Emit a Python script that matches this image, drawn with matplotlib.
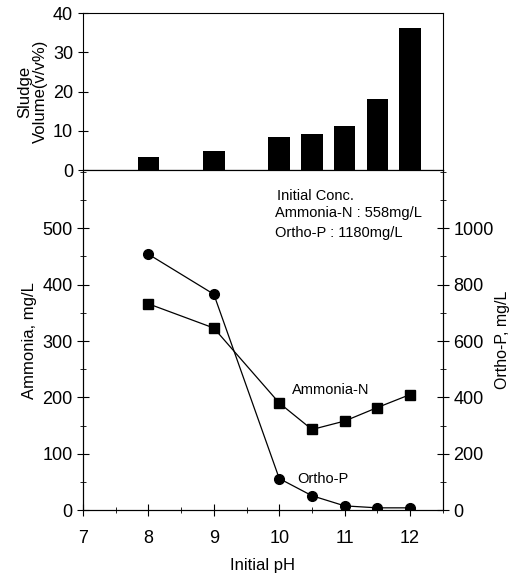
import matplotlib.pyplot as plt
import numpy as np
from matplotlib.ticker import MultipleLocator

plt.rcParams['font.family'] = ['Liberation Sans', 'DejaVu Sans']
NARROW = ['Liberation Sans Narrow', 'Liberation Sans']

# data
ph = [8, 9, 10, 10.5, 11, 11.5, 12]
sludge = [3.3, 5.0, 8.5, 9.1, 11.2, 18.0, 36.2]
ammonia = [366, 323, 190, 143, 158, 182, 205]
ortho_p = [908, 766, 112, 51, 15, 8, 8]

fig = plt.figure(figsize=(5.09, 5.79), dpi=100)
ax_top = fig.add_axes([0.163, 0.706, 0.707, 0.2715])
ax = fig.add_axes([0.163, 0.119, 0.707, 0.587])
ax2 = ax.twinx()

# sludge bars
ax_top.bar(ph, sludge, width=0.33, color='black')
ax_top.set_xlim(7, 12.5)
ax_top.set_ylim(0, 40)
ax_top.set_yticks([0, 10, 20, 30, 40])
ax_top.set_xticks([])
ax_top.tick_params(axis='y', direction='inout', length=7, labelsize=13)
ax_top.set_ylabel('Sludge\nVolume(v/v%)', fontsize=12, labelpad=4, linespacing=1.0)

# ammonia (left) and ortho-P (right)
ax.plot(ph, ammonia, color='black', lw=0.9, marker='s', ms=7)
ax2.plot(ph, ortho_p, color='black', lw=0.9, marker='o', ms=7)
ax.set_xlim(7, 12.5)
ax.set_ylim(0, 603)
ax2.set_ylim(0, 1206)
ax.set_xticks([7, 8, 9, 10, 11, 12])
ax.xaxis.set_minor_locator(MultipleLocator(0.5))
ax.set_yticks([0, 100, 200, 300, 400, 500])
ax.yaxis.set_minor_locator(MultipleLocator(50))
ax2.set_yticks([0, 200, 400, 600, 800, 1000])
ax2.yaxis.set_minor_locator(MultipleLocator(100))
for a in (ax, ax2):
    a.tick_params(which='major', direction='inout', length=8, labelsize=13)
    a.tick_params(which='minor', direction='inout', length=5)
ax.tick_params(axis='x', which='major', pad=10)
for a in (ax_top, ax, ax2):
    for lab in a.get_xticklabels() + a.get_yticklabels():
        lab.set_family(NARROW)
ax.set_xlabel('Initial pH', fontsize=12, labelpad=8)
ax.set_ylabel('Ammonia, mg/L', fontsize=12, labelpad=4)
ax2.set_ylabel('Ortho-P, mg/L', fontsize=11.5)
ax2.yaxis.set_label_coords(1.145, 0.5)

ax.text(9.96, 558, 'Initial Conc.', fontsize=10.5, va='center')
ax.text(9.93, 527, 'Ammonia-N : 558mg/L', fontsize=10.5, va='center')
ax.text(9.93, 491, 'Ortho-P : 1180mg/L', fontsize=10.5, va='center')
ax.text(10.2, 213, 'Ammonia-N', fontsize=10.5, va='center')
ax.text(10.28, 55, 'Ortho-P', fontsize=10.5, va='center')

fig.savefig('out.png', dpi=100)
